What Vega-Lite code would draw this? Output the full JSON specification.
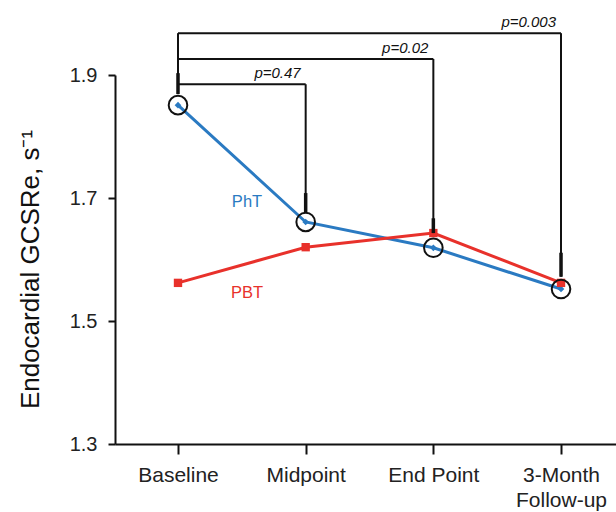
{
  "$schema": "https://vega.github.io/schema/vega-lite/v6.json",
  "width": 501,
  "height": 369,
  "autosize": {"type": "none"},
  "padding": {"left": 115, "top": 75, "right": 0, "bottom": 68},
  "background": "white",
  "config": {
    "view": {"stroke": null},
    "font": "Liberation Sans"
  },
  "datasets": {
    "series": [
      {"time": "Baseline", "series": "PhT", "value": 1.851},
      {"time": "Midpoint", "series": "PhT", "value": 1.661},
      {"time": "End Point", "series": "PhT", "value": 1.619},
      {"time": "3-Month Follow-up", "series": "PhT", "value": 1.552},
      {"time": "Baseline", "series": "PBT", "value": 1.562},
      {"time": "Midpoint", "series": "PBT", "value": 1.620},
      {"time": "End Point", "series": "PBT", "value": 1.643},
      {"time": "3-Month Follow-up", "series": "PBT", "value": 1.562}
    ],
    "brackets": [
      {"from": "Baseline", "to": "Midpoint", "level": 1.885, "end": 1.677, "p": "p=0.47"},
      {"from": "Baseline", "to": "End Point", "level": 1.926, "end": 1.643, "p": "p=0.02"},
      {"from": "Baseline", "to": "3-Month Follow-up", "level": 1.968, "end": 1.572, "p": "p=0.003"}
    ],
    "stem": [
      {"time": "Baseline", "top": 1.968, "bottom": 1.869}
    ],
    "bars": [
      {"time": "Baseline", "top": 1.903, "bottom": 1.869},
      {"time": "Midpoint", "top": 1.708, "bottom": 1.677},
      {"time": "End Point", "top": 1.667, "bottom": 1.643},
      {"time": "3-Month Follow-up", "top": 1.611, "bottom": 1.572}
    ],
    "labels": [
      {"time": "Baseline", "series": "PhT", "value": 1.6935},
      {"time": "Baseline", "series": "PBT", "value": 1.5455}
    ]
  },
  "encoding": {
    "x": {
      "field": "time",
      "type": "nominal",
      "sort": ["Baseline", "Midpoint", "End Point", "3-Month Follow-up"],
      "scale": {"type": "point", "domain": ["Baseline", "Midpoint", "End Point", "3-Month Follow-up"], "padding": 0.462, "align": 0.534},
      "axis": {
        "title": null,
        "labelAngle": 0,
        "labelFontSize": 21,
        "labelColor": "#222",
        "labelPadding": 10,
        "tickSize": 10,
        "tickWidth": 2,
        "tickColor": "#111",
        "domainColor": "#111",
        "domainWidth": 2,
        "labelLineHeight": 25,
        "labelExpr": "datum.value == '3-Month Follow-up' ? ['3-Month', 'Follow-up'] : datum.label"
      }
    },
    "y": {
      "type": "quantitative",
      "scale": {"domain": [1.3, 1.9], "nice": false, "zero": false},
      "axis": {
        "title": "Endocardial GCSRe, s\u207B\u00B9",
        "titleFontSize": 26,
        "titleFontWeight": "normal",
        "titleColor": "#111",
        "titleAngle": 270,
        "titleAlign": "center",
        "titleBaseline": "alphabetic",
        "titleX": -77,
        "titleY": 194,
        "values": [1.3, 1.5, 1.7, 1.9],
        "format": ".1f",
        "grid": false,
        "labelFontSize": 20,
        "labelColor": "#222",
        "labelPadding": 11,
        "tickSize": 7,
        "tickWidth": 2,
        "tickColor": "#111",
        "domainColor": "#111",
        "domainWidth": 2
      }
    }
  },
  "layer": [
    {
      "data": {"name": "series"},
      "mark": {"type": "line", "strokeWidth": 3},
      "encoding": {
        "y": {"field": "value", "type": "quantitative"},
        "color": {"field": "series", "type": "nominal", "scale": {"domain": ["PhT", "PBT"], "range": ["#2a7ac2", "#e8312b"]}, "legend": null}
      }
    },
    {
      "data": {"name": "series"},
      "transform": [{"filter": "datum.series == 'PhT'"}],
      "mark": {"type": "point", "shape": "diamond", "filled": true, "size": 45, "color": "#2a7ac2", "opacity": 1},
      "encoding": {"y": {"field": "value", "type": "quantitative"}}
    },
    {
      "data": {"name": "series"},
      "transform": [{"filter": "datum.series == 'PBT'"}],
      "mark": {"type": "point", "shape": "square", "filled": true, "size": 70, "color": "#e8312b", "opacity": 1},
      "encoding": {"y": {"field": "value", "type": "quantitative"}}
    },
    {
      "data": {"name": "series"},
      "transform": [{"filter": "datum.series == 'PhT'"}],
      "mark": {"type": "point", "shape": "circle", "filled": false, "size": 346, "stroke": "#111", "strokeWidth": 2, "opacity": 1},
      "encoding": {"y": {"field": "value", "type": "quantitative"}}
    },
    {
      "data": {"name": "brackets"},
      "mark": {"type": "rule", "color": "#111", "strokeWidth": 2},
      "encoding": {
        "x": {"field": "from", "type": "nominal", "sort": ["Baseline", "Midpoint", "End Point", "3-Month Follow-up"]},
        "x2": {"field": "to"},
        "y": {"field": "level", "type": "quantitative"}
      }
    },
    {
      "data": {"name": "brackets"},
      "mark": {"type": "rule", "color": "#111", "strokeWidth": 2},
      "encoding": {
        "x": {"field": "to", "type": "nominal", "sort": ["Baseline", "Midpoint", "End Point", "3-Month Follow-up"]},
        "y": {"field": "level", "type": "quantitative"},
        "y2": {"field": "end"}
      }
    },
    {
      "data": {"name": "stem"},
      "mark": {"type": "rule", "color": "#111", "strokeWidth": 2},
      "encoding": {
        "y": {"field": "top", "type": "quantitative"},
        "y2": {"field": "bottom"}
      }
    },
    {
      "data": {"name": "bars"},
      "mark": {"type": "rule", "color": "#111", "strokeWidth": 3.5},
      "encoding": {
        "y": {"field": "top", "type": "quantitative"},
        "y2": {"field": "bottom"}
      }
    },
    {
      "data": {"name": "brackets"},
      "mark": {"type": "text", "align": "right", "baseline": "alphabetic", "dx": -5, "dy": -6, "fontSize": 15, "fontStyle": "italic", "color": "#111"},
      "encoding": {
        "x": {"field": "to", "type": "nominal", "sort": ["Baseline", "Midpoint", "End Point", "3-Month Follow-up"]},
        "y": {"field": "level", "type": "quantitative"},
        "text": {"field": "p"}
      }
    },
    {
      "data": {"name": "labels"},
      "mark": {"type": "text", "align": "center", "baseline": "middle", "dx": 69, "fontSize": 16.5},
      "encoding": {
        "y": {"field": "value", "type": "quantitative"},
        "text": {"field": "series"},
        "color": {"field": "series", "type": "nominal", "legend": null}
      }
    }
  ]
}
